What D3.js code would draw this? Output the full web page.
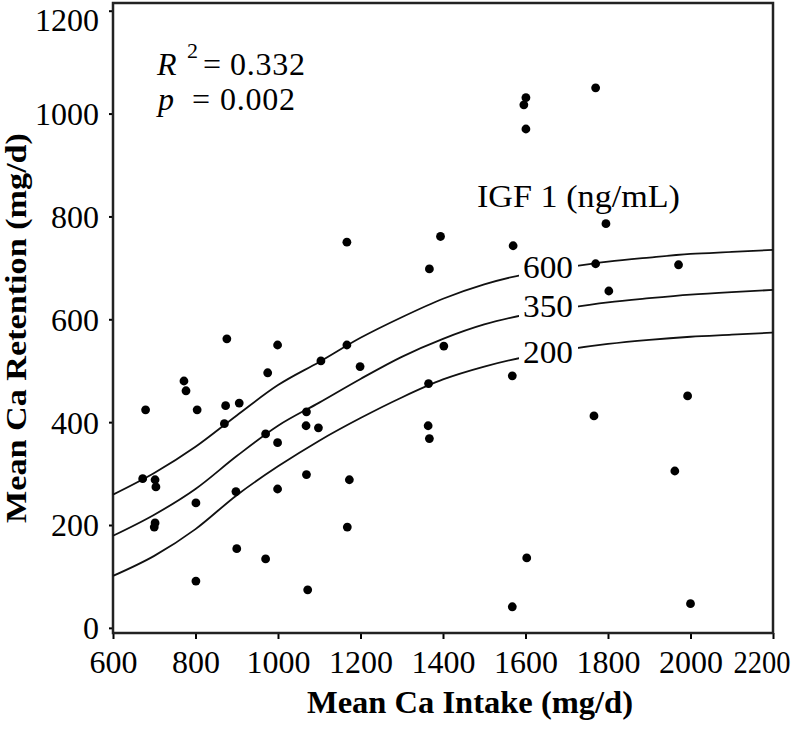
<!DOCTYPE html>
<html>
<head>
<meta charset="utf-8">
<script src="https://cdn.jsdelivr.net/npm/d3@7"></script>
<style>
  body { margin: 0; background: #fff; }
</style>
</head>
<body>
<div class="canvas"></div>
<script>
// Observed points (mean Ca intake, mean Ca retention), mg/d
const intake = [679, 772, 777, 804, 876, 873, 870, 906, 975, 999, 970, 999, 1069, 1068, 1098, 1104,
  1167, 1199, 1367, 1402, 1365, 1364, 1367, 672, 702, 704, 898, 999, 1069, 1173, 801, 702, 700,
  900, 970, 801, 1072, 1168, 1770, 1971, 1802, 1568, 1993, 1766, 1962, 1603, 1568, 2000, 1770,
  1601, 1596, 1601, 1795, 1394, 1570, 1167];
const retention = [424, 480, 461, 424, 562, 432, 397, 437, 496, 550, 377, 360, 420, 393, 389, 519,
  550, 508, 698, 548, 475, 393, 368, 290, 288, 274, 265, 270, 298, 288, 243, 204, 196,
  154, 134, 91, 74, 196, 708, 706, 655, 490, 451, 412, 305, 136, 41, 47, 1050,
  1031, 1017, 970, 786, 761, 743, 750];

// Model curves for three IGF 1 levels
const curveX = [600, 700, 800, 900, 1000, 1100, 1200, 1300, 1400, 1500, 1600, 1700, 1800, 1900, 2000, 2100, 2200];
const igf600 = [259, 301, 352, 413, 472, 517, 564, 604, 640, 668, 688, 701, 712, 720, 727, 731, 735];
const igf350 = [179, 220, 270, 334, 393, 438, 484, 527, 562, 590, 609, 622, 633, 641, 648, 653, 657];
const igf200 = [101, 140, 192, 258, 314, 364, 408, 448, 483, 508, 527, 541, 552, 560, 566, 570, 574];
const curveLabels = ['600', '350', '200'];

const xTicks = [600, 800, 1000, 1200, 1400, 1600, 1800, 2000, 2200];
const yTicks = [0, 200, 400, 600, 800, 1000, 1200];

const width = 800, height = 730;
const plot = { left: 113, right: 773, top: 3, bottom: 633 };
const serif = '"Liberation Serif", "Times New Roman", Times, serif';

const svg = d3.select('.canvas')
    .append('svg')
    .attr('width', width)
    .attr('height', height)
    .style('font-family', serif);

const x = d3.scaleLinear().domain([600, 2200]).range([plot.left, plot.right]);
const y = d3.scaleLinear().domain([-10, 1215]).range([plot.bottom, plot.top]);

// Axes
const xAxis = svg.append('g')
    .attr('transform', `translate(0, ${plot.bottom})`)
    .call(d3.axisBottom(x).tickValues(xTicks).tickFormat(d3.format('d')).tickSize(6).tickPadding(6));

const yAxis = svg.append('g')
    .attr('transform', `translate(${plot.left}, 0)`)
    .call(d3.axisLeft(y).tickValues(yTicks).tickFormat(d3.format('d')).tickSize(4).tickPadding(10));

[xAxis, yAxis].forEach(g => {
    g.attr('font-family', null).attr('font-size', null);
    g.select('.domain').remove();
    g.selectAll('line').attr('stroke', '#000').attr('stroke-width', 2);
    g.selectAll('text')
        .style('font-family', serif)
        .style('font-size', '32px')
        .attr('fill', '#000');
});
yAxis.selectAll('text').attr('dy', d => d === 1200 ? '0.62em' : '0.34em');
xAxis.selectAll('text').attr('dy', '0.88em');
// last x label is pulled in so it stays inside the page
xAxis.selectAll('.tick')
    .filter(d => d === 2200)
    .select('text')
    .attr('text-anchor', 'end')
    .attr('x', 17)
    .attr('textLength', 57)
    .attr('lengthAdjust', 'spacingAndGlyphs');

// Frame
svg.append('rect')
    .attr('x', plot.left)
    .attr('y', plot.top)
    .attr('width', plot.right - plot.left)
    .attr('height', plot.bottom - plot.top)
    .attr('fill', 'none')
    .attr('stroke', '#222')
    .attr('stroke-width', 2.5);

// Curves
const line = d3.line()
    .x(d => x(d[0]))
    .y(d => y(d[1]))
    .curve(d3.curveMonotoneX);

[igf600, igf350, igf200].forEach(series => {
    svg.append('path')
        .datum(curveX.map((cx, i) => [cx, series[i]]))
        .attr('d', line)
        .attr('fill', 'none')
        .attr('stroke', '#111')
        .attr('stroke-width', 1.8);
});

// Curve labels sit on a white patch that breaks the line
const labelBase = [278, 317, 363];
curveLabels.forEach((t, i) => {
    svg.append('rect')
        .attr('x', 519)
        .attr('y', labelBase[i] - 26)
        .attr('width', 59)
        .attr('height', 32)
        .attr('fill', '#fff');
    svg.append('text')
        .attr('x', 523)
        .attr('y', labelBase[i])
        .attr('textLength', 50)
        .attr('lengthAdjust', 'spacingAndGlyphs')
        .style('font-size', '32px')
        .text(t);
});

// Points
svg.append('g')
    .selectAll('circle')
    .data(intake.map((d, i) => [d, retention[i]]))
    .enter()
    .append('circle')
        .attr('cx', d => x(d[0]))
        .attr('cy', d => y(d[1]))
        .attr('r', 4.4)
        .attr('fill', '#000');

// Annotations
const r2 = svg.append('text').attr('y', 75).style('font-size', '32px');
r2.append('tspan').attr('x', 157).attr('textLength', 25).style('font-style', 'italic').text('R');
r2.append('tspan').attr('x', 187).attr('y', 58).style('font-size', '22px').text('2');
r2.append('tspan').attr('x', 203).attr('y', 75).text('=');
r2.append('tspan').attr('x', 230).attr('textLength', 75).text('0.332');

const pv = svg.append('text').attr('y', 110).style('font-size', '32px');
pv.append('tspan').attr('x', 158).style('font-style', 'italic').text('p');
pv.append('tspan').attr('x', 192).text('=');
pv.append('tspan').attr('x', 220).attr('textLength', 75).text('0.002');

svg.append('text')
    .attr('x', 477)
    .attr('y', 207)
    .attr('textLength', 203)
    .attr('lengthAdjust', 'spacingAndGlyphs')
    .style('font-size', '31px')
    .text('IGF 1 (ng/mL)');

// Axis titles
svg.append('text')
    .attr('x', 307)
    .attr('y', 713)
    .attr('textLength', 326)
    .attr('lengthAdjust', 'spacingAndGlyphs')
    .style('font-size', '31px')
    .style('font-weight', 'bold')
    .text('Mean Ca Intake (mg/d)');

svg.append('text')
    .attr('transform', 'translate(26, 523) rotate(-90)')
    .attr('textLength', 390)
    .attr('lengthAdjust', 'spacingAndGlyphs')
    .style('font-size', '30px')
    .style('font-weight', 'bold')
    .text('Mean Ca Retention (mg/d)');
</script>
</body>
</html>
